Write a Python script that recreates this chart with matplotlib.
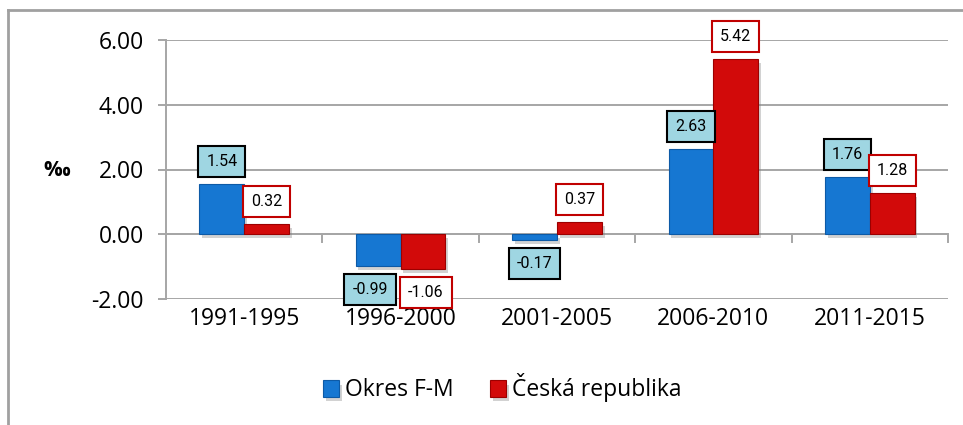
import matplotlib.pyplot as plt
import matplotlib.patheffects as pe
from matplotlib.lines import Line2D
import numpy as np

periods = ["1991-1995", "1996-2000", "2001-2005", "2006-2010", "2011-2015"]
okres = [1.54, -0.99, -0.17, 2.63, 1.76]
cr = [0.32, -1.06, 0.37, 5.42, 1.28]
series_names = ["Okres F-M", "Česká republika"]

plt.rcParams['font.family'] = ['Open Sans', 'DejaVu Sans']

fig = plt.figure(figsize=(9.63, 4.25), dpi=100)
ax = fig.add_axes([166/963, 1 - 299/425, (948 - 166)/963, (299 - 40)/425])

x = np.arange(len(periods))
width = 0.287

shadow = [pe.withSimplePatchShadow(offset=(2, -3), shadow_rgbFace='gray', alpha=0.35)]
b1 = ax.bar(x - width/2, okres, width, color="#1677d2", edgecolor="#0d5aa6",
            linewidth=0.8, label=series_names[0], zorder=3, path_effects=shadow)
b2 = ax.bar(x + width/2, cr, width, color="#d20a0a", edgecolor="#9c0000",
            linewidth=0.8, label=series_names[1], zorder=3, path_effects=shadow)

ax.set_ylim(-2, 6)
ax.set_xlim(-0.5, len(periods) - 0.5)
ax.set_yticks([-2, 0, 2, 4, 6])
ax.set_yticklabels([f"{v:.2f}" for v in [-2, 0, 2, 4, 6]])
ax.yaxis.grid(True, color="#a6a6a6", linewidth=1.4)
ax.set_axisbelow(True)
ax.axhline(0, color="#a6a6a6", linewidth=1.4, zorder=2)
for b in np.arange(0.5, len(periods), 1.0):
    ax.plot([b, b], [0, -0.25], color="#a6a6a6", lw=1.4, zorder=2, clip_on=False)

for sp in ["top", "right", "bottom"]:
    ax.spines[sp].set_visible(False)
ax.spines["left"].set_color("#a6a6a6")
ax.spines["left"].set_linewidth(1.4)
ax.tick_params(axis="y", length=6, color="#a6a6a6", width=1.4, labelsize=16.5, pad=10)
ax.set_xticks(x)
ax.set_xticklabels(periods)
ax.tick_params(axis="x", length=0, labelsize=16.5, pad=6)

fig.text(57/963, 1 - 170/425, "‰", fontsize=15, fontweight="bold", ha="center", va="center")

# data labels
nudge = {(0, 1): -8, (1, 1): 3}
for si, (bars, fc, ec) in enumerate(((b1, "#9fd6e2", "black"), (b2, "white", "#c00000"))):
    for ci, r in enumerate(bars):
        h = r.get_height()
        cx = r.get_x() + r.get_width()/2
        dy = 15 if h >= 0 else -16
        ax.annotate(f"{h:.2f}", xy=(cx, h), xytext=(nudge.get((si, ci), 0), dy),
                    textcoords="offset pixels", ha="center",
                    va="bottom" if h >= 0 else "top", fontsize=11.5,
                    family=["Roboto", "Open Sans"],
                    bbox=dict(boxstyle="square,pad=0.5", fc=fc, ec=ec, lw=1.5),
                    zorder=6, annotation_clip=False)

fig.legend(loc="center", bbox_to_anchor=(502/963, 1 - 388/425), ncol=2, frameon=False,
           fontsize=16.5, handlelength=0.7, handleheight=0.7, handletextpad=0.25,
           columnspacing=1.6)

# outer chart frame (only left and top are visible in the crop)
fig.add_artist(Line2D([8/963, 8/963], [0, 1 - 10/425], transform=fig.transFigure,
                      color="#a0a0a0", lw=2))
fig.add_artist(Line2D([8/963, 1], [1 - 10/425, 1 - 10/425], transform=fig.transFigure,
                      color="#a0a0a0", lw=2))

fig.savefig("out.png", dpi=100, facecolor="white")
